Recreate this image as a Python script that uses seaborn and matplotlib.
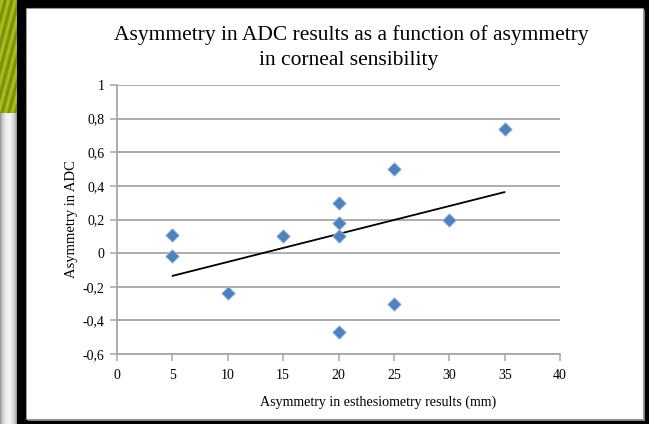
import numpy as np
import pandas as pd
import matplotlib
matplotlib.use("Agg")
import matplotlib.pyplot as plt
from matplotlib.patches import Rectangle
import seaborn as sns

# ---- data ----
esthesiometry = [5, 5, 10, 15, 20, 20, 20, 20, 25, 25, 30, 35]
adc = [0.11, -0.02, -0.24, 0.10, 0.30, 0.18, 0.10, -0.47, 0.50, -0.30, 0.20, 0.74]
x_ticks = [0, 5, 10, 15, 20, 25, 30, 35, 40]
y_ticks = [-0.6, -0.4, -0.2, 0, 0.2, 0.4, 0.6, 0.8, 1]
y_tick_labels = ["-0,6", "-0,4", "-0,2", "0", "0,2", "0,4", "0,6", "0,8", "1"]
title_line1 = "Asymmetry in ADC results as a function of asymmetry"
title_line2 = "in corneal sensibility"
x_label = "Asymmetry in esthesiometry results (mm)"
y_label = "Asymmetry in ADC"

df = pd.DataFrame({"x": esthesiometry, "y": adc})

sns.set_theme(style="white")
plt.rcParams["font.family"] = ["Liberation Serif", "DejaVu Serif"]

W, H = 649, 424
fig = plt.figure(figsize=(W / 100, H / 100), dpi=100, facecolor="black")

def px(x0, y0, x1, y1):
    return [x0 / W, 1 - y1 / H, (x1 - x0) / W, (y1 - y0) / H]

# left decorative strip: green leaf on top, grey gradient below
ax_strip = fig.add_axes(px(0, 0, 17, 424))
ax_strip.axis("off")
grad = np.linspace(0, 1, 40)
grey = 0.55 + 0.4 * np.sin(np.pi * grad) ** 0.6
img = np.ones((424, 40, 3))
img[:, :, 0] = grey
img[:, :, 1] = grey
img[:, :, 2] = grey
yy, xx = np.mgrid[0:113, 0:40]
stripe = 0.5 + 0.5 * np.sin((xx * 0.4 + yy * 0.25))
img[:113, :, 0] = 0.45 + 0.25 * stripe
img[:113, :, 1] = 0.55 + 0.2 * stripe
img[:113, :, 2] = 0.05 + 0.05 * stripe
ax_strip.imshow(img, aspect="auto", extent=[0, 1, 0, 1])

# white panel with grey border (drawn beneath the axes)
fig.patches.append(Rectangle((28 / W, 1 - 421 / H), (645 - 28) / W, (421 - 10) / H,
                             transform=fig.transFigure, facecolor="#7f7f7f",
                             edgecolor="none", zorder=-2))
fig.patches.append(Rectangle((26 / W, 1 - 419 / H), (643 - 26) / W, (419 - 8) / H,
                             transform=fig.transFigure, facecolor="white",
                             edgecolor="#9a9a9a", linewidth=0.8, zorder=-1))

ax = fig.add_axes(px(117, 85, 560, 354))
ax.set_facecolor("none")
ax.set_zorder(1)

sns.regplot(data=df, x="x", y="y", scatter=False, ci=None, truncate=True, ax=ax,
            line_kws={"color": "black", "linewidth": 1.3, "zorder": 3})
sns.scatterplot(data=df, x="x", y="y", marker="D", s=48, color="#4f81bd",
                edgecolor="#a9bfe0", linewidth=0.6, ax=ax, zorder=4)

ax.set_xlim(0, 40)
ax.set_ylim(-0.6, 1)
ax.set_xticks(x_ticks)
ax.set_xticklabels([str(t) for t in x_ticks])
ax.set_yticks(y_ticks)
ax.set_yticklabels(y_tick_labels)
ax.set_xlabel("")
ax.set_ylabel("")

ax.grid(axis="y", color="#a6a6a6", linewidth=1.3)
ax.grid(axis="x", visible=False)
ax.set_axisbelow(True)
for s in ["top", "right"]:
    ax.spines[s].set_visible(False)
for s in ["left", "bottom"]:
    ax.spines[s].set_color("#a6a6a6")
    ax.spines[s].set_linewidth(1.3)
ax.tick_params(axis="both", which="major", direction="out", length=5, width=1.1,
               color="#a6a6a6", labelsize=10, labelcolor="black", pad=4)
ax.tick_params(axis="x", pad=6, bottom=True)
ax.tick_params(axis="y", left=True)

fig.text(351 / W, 1 - 35 / H, title_line1, ha="center", va="center", fontsize=15.5,
         color="black")
fig.text(349 / W, 1 - 61 / H, title_line2, ha="center", va="center", fontsize=15.5,
         color="black")
fig.text(378 / W, 1 - 402 / H, x_label, ha="center", va="center", fontsize=10.1,
         color="black")
fig.text(72 / W, 1 - 219 / H, y_label, ha="center", va="center", fontsize=10.5,
         rotation=90, color="black")

fig.savefig("out.png", dpi=100, facecolor="black")
